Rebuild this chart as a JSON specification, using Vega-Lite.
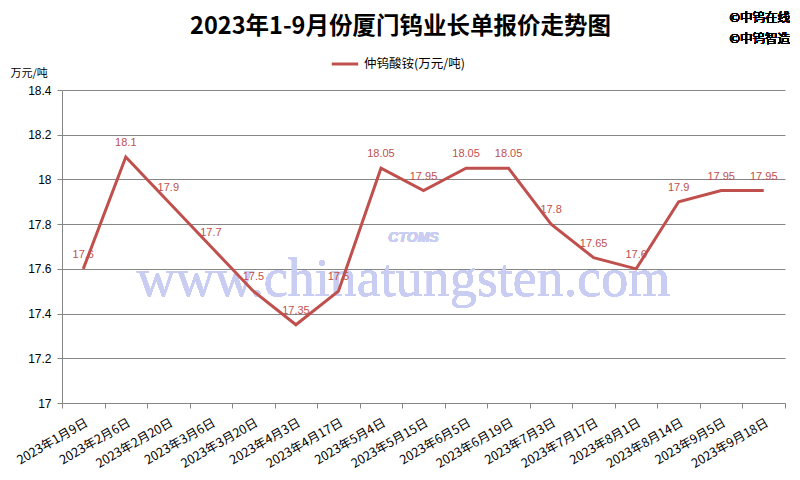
{
  "$schema": "https://vega.github.io/schema/vega-lite/v6.json",
  "width": 723,
  "height": 313,
  "autosize": {"type": "none"},
  "padding": {"left": 62, "top": 90, "right": 15, "bottom": 77},
  "background": "white",
  "title": {
    "text": "2023年1-9月份厦门钨业长单报价走势图",
    "font": "Noto Sans CJK SC",
    "fontSize": 23.5,
    "fontWeight": "bold",
    "color": "#000000",
    "anchor": "middle",
    "frame": "group",
    "dx": -23,
    "offset": -26
  },
  "config": {
    "view": {"stroke": null},
    "axis": {"domainColor": "#868686", "tickColor": "#868686", "gridColor": "#868686", "labelColor": "#000000"}
  },
  "data": {
    "values": [
      {"date": "2023年1月9日", "price": 17.6},
      {"date": "2023年2月6日", "price": 18.1},
      {"date": "2023年2月20日", "price": 17.9},
      {"date": "2023年3月6日", "price": 17.7},
      {"date": "2023年3月20日", "price": 17.5},
      {"date": "2023年4月3日", "price": 17.35},
      {"date": "2023年4月17日", "price": 17.5},
      {"date": "2023年5月4日", "price": 18.05},
      {"date": "2023年5月15日", "price": 17.95},
      {"date": "2023年6月5日", "price": 18.05},
      {"date": "2023年6月19日", "price": 18.05},
      {"date": "2023年7月3日", "price": 17.8},
      {"date": "2023年7月17日", "price": 17.65},
      {"date": "2023年8月1日", "price": 17.6},
      {"date": "2023年8月14日", "price": 17.9},
      {"date": "2023年9月5日", "price": 17.95},
      {"date": "2023年9月18日", "price": 17.95}
    ]
  },
  "encoding": {
    "x": {
      "field": "date",
      "type": "nominal",
      "sort": null,
      "scale": {
        "type": "band",
        "paddingInner": 0,
        "paddingOuter": 0,
        "domain": ["2023年1月9日", "2023年2月6日", "2023年2月20日", "2023年3月6日", "2023年3月20日", "2023年4月3日", "2023年4月17日", "2023年5月4日", "2023年5月15日", "2023年6月5日", "2023年6月19日", "2023年7月3日", "2023年7月17日", "2023年8月1日", "2023年8月14日", "2023年9月5日", "2023年9月18日"]
      },
      "axis": {
        "title": null,
        "labelAngle": -30,
        "labelAlign": "right",
        "labelBaseline": "top",
        "labelFont": "Noto Sans CJK SC",
        "labelFontSize": 12.5,
        "labelPadding": 8,
        "tickBand": "extent",
        "tickSize": 5,
        "grid": false,
        "labelOverlap": false
      }
    },
    "y": {
      "field": "price",
      "type": "quantitative",
      "scale": {"domain": [17, 18.4], "nice": false, "zero": false},
      "axis": {
        "title": "万元/吨",
        "titleAngle": 0,
        "titleAlign": "left",
        "titleBaseline": "alphabetic",
        "titleX": -52,
        "titleY": -14,
        "titleFont": "Noto Sans CJK SC",
        "titleFontSize": 11,
        "titleFontWeight": "normal",
        "titleColor": "#000000",
        "values": [17, 17.2, 17.4, 17.6, 17.8, 18, 18.2, 18.4],
        "format": "~g",
        "labelFont": "Liberation Sans",
        "labelFontSize": 12,
        "labelPadding": 6,
        "tickSize": 5,
        "grid": true
      }
    }
  },
  "layer": [
    {
      "mark": {"type": "text", "font": "Liberation Serif", "fontSize": 54, "color": "#C9CDF2", "opacity": 0.8, "dx": -20},
      "encoding": {
        "x": {"datum": "2023年5月15日"},
        "y": {"datum": 17.55},
        "text": {"value": "www.chinatungsten.com"}
      }
    },
    {
      "mark": {"type": "text", "font": "Liberation Sans", "fontSize": 14, "fontWeight": "bold", "fontStyle": "italic", "color": "#C9CDF2", "dx": -10},
      "encoding": {
        "x": {"datum": "2023年5月15日"},
        "y": {"datum": 17.74},
        "text": {"value": "CTOMS"}
      }
    },
    {
      "mark": {"type": "line", "strokeWidth": 3},
      "encoding": {
        "color": {
          "datum": "仲钨酸铵(万元/吨)",
          "scale": {"range": ["#C0504D"]},
          "legend": {
            "title": null,
            "orient": "none",
            "legendX": 268,
            "legendY": -41,
            "symbolType": "stroke",
            "symbolStrokeWidth": 3,
            "symbolSize": 700,
            "labelFont": "Noto Sans CJK SC",
            "labelFontSize": 12.5,
            "labelColor": "#000000"
          }
        }
      }
    },
    {
      "mark": {"type": "text", "font": "Liberation Sans", "fontSize": 11, "color": "#C0504D", "dy": -14},
      "encoding": {"text": {"field": "price", "type": "quantitative", "format": "~g"}}
    },
    {
      "mark": {"type": "text", "font": "Noto Sans CJK SC", "fontSize": 12.5, "fontWeight": "normal", "color": "#000000", "dx": -4},
      "encoding": {
        "x": {"datum": "2023年9月18日"},
        "y": {"datum": 18.72},
        "text": {"value": "©中钨在线"}
      }
    },
    {
      "mark": {"type": "text", "font": "Noto Sans CJK SC", "fontSize": 12.5, "fontWeight": "normal", "color": "#000000", "dx": -4},
      "encoding": {
        "x": {"datum": "2023年9月18日"},
        "y": {"datum": 18.63},
        "text": {"value": "©中钨智造"}
      }
    }
  ]
}
